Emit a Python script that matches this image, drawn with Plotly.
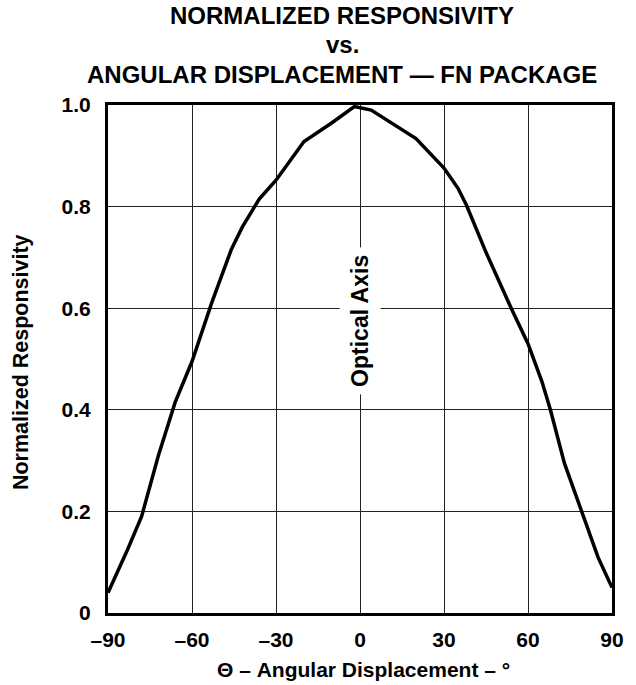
import plotly.graph_objects as go

# Data
angle_deg = [-90, -83, -78, -72, -66, -60, -53, -46, -42, -36, -30, -20, -10, -2,
             4, 12, 20, 30, 35, 38, 45, 54, 60, 65, 68, 73, 79, 85, 90]
responsivity = [0.04, 0.125, 0.19, 0.31, 0.415, 0.495, 0.61, 0.715, 0.76, 0.815,
                0.852, 0.928, 0.965, 0.997, 0.99, 0.963, 0.934, 0.876, 0.836,
                0.803, 0.71, 0.60, 0.53, 0.455, 0.40, 0.295, 0.20, 0.11, 0.05]

x_tickvals = [-90, -60, -30, 0, 30, 60, 90]
x_ticktext = ["\u201390", "\u201360", "\u201330", "0", "30", "60", "90"]
y_tickvals = [0, 0.2, 0.4, 0.6, 0.8, 1.0]
y_ticktext = ["0", "0.2", "0.4", "0.6", "0.8", "1.0"]

title_lines = ["NORMALIZED RESPONSIVITY", "vs.", "ANGULAR DISPLACEMENT \u2014 FN PACKAGE"]
x_title = "\u0398 \u2013 Angular Displacement \u2013 \u00b0"
y_title = "Normalized Responsivity"
axis_label = "Optical Axis"

FONT = "Liberation Sans, Arial, sans-serif"

fig = go.Figure()
fig.add_trace(go.Scatter(
    x=angle_deg, y=responsivity, mode="lines",
    line=dict(color="black", width=3.5, shape="linear"),
    showlegend=False, hoverinfo="skip",
))

fig.update_xaxes(
    range=[-90, 90], tickvals=x_tickvals, ticktext=x_ticktext,
    showgrid=True, gridcolor="#222222", gridwidth=1.3, zeroline=False,
    showline=True, linecolor="black", linewidth=3, mirror=True,
    ticks="", ticklabelstandoff=6,
    tickfont=dict(family=FONT, size=21, color="black", weight="bold"),
)
fig.update_yaxes(
    range=[0, 1.0], tickvals=y_tickvals, ticktext=y_ticktext,
    showgrid=True, gridcolor="#222222", gridwidth=1.3, zeroline=False,
    showline=True, linecolor="black", linewidth=3, mirror=True,
    ticks="", ticklabelstandoff=10,
    tickfont=dict(family=FONT, size=21, color="black", weight="bold"),
)

annotations = []
title_y = [1.176, 1.119, 1.061]
for txt, yy in zip(title_lines, title_y):
    annotations.append(dict(
        text=txt, xref="paper", yref="paper", x=0.465, y=yy,
        xanchor="center", yanchor="middle", showarrow=False,
        font=dict(family=FONT, size=24, color="black", weight="bold"),
    ))
annotations.append(dict(
    text=x_title, xref="paper", yref="paper", x=0.506, y=-0.112,
    xanchor="center", yanchor="middle", showarrow=False,
    font=dict(family=FONT, size=21, color="black", weight="bold"),
))
annotations.append(dict(
    text=y_title, xref="paper", yref="paper", x=-0.1725, y=0.494,
    xanchor="center", yanchor="middle", showarrow=False, textangle=-90,
    font=dict(family=FONT, size=21.5, color="black", weight="bold"),
))
annotations.append(dict(
    text=axis_label, xref="x", yref="y", x=0, y=0.575,
    xanchor="center", yanchor="middle", showarrow=False, textangle=-90,
    bgcolor="white", borderpad=7,
    font=dict(family=FONT, size=23, color="black", weight="bold"),
))

fig.update_layout(
    width=636, height=685,
    margin=dict(l=108, r=18, t=105, b=72),
    plot_bgcolor="white", paper_bgcolor="white",
    annotations=annotations,
    font=dict(family=FONT, color="black"),
)

fig.write_html("out.html", config={"displayModeBar": False},
               post_script="document.body.style.margin='0';")
